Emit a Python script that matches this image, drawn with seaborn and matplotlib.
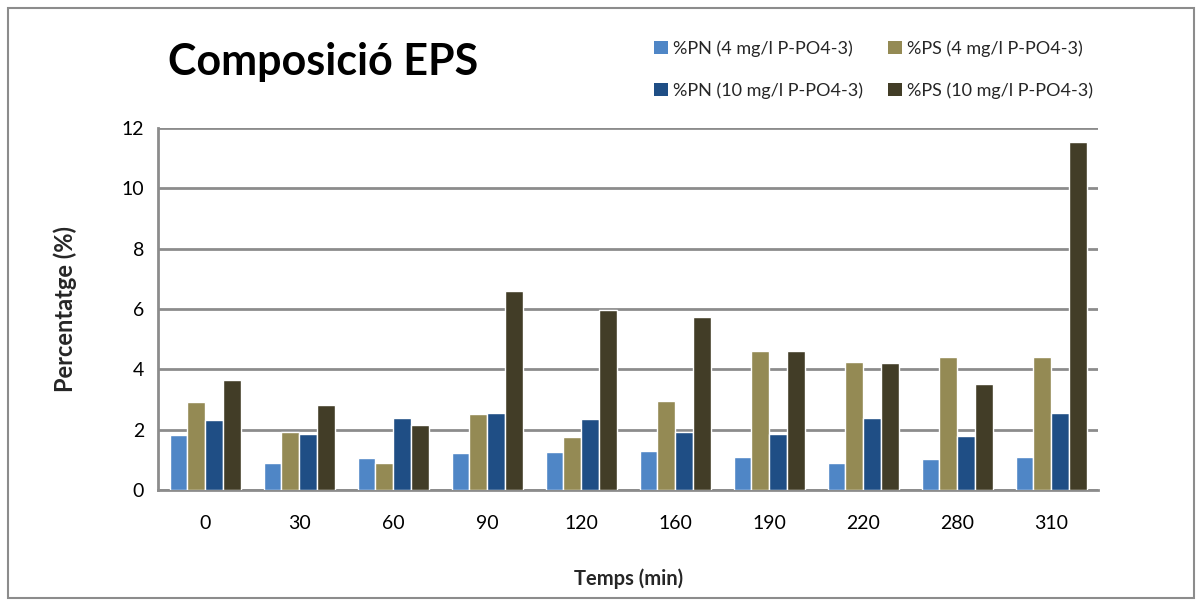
import matplotlib
matplotlib.use("Agg")
import matplotlib.pyplot as plt
import seaborn as sns
import pandas as pd
from matplotlib.patches import Rectangle, Patch

# ---- data ----
temps = ["0", "30", "60", "90", "120", "160", "190", "220", "280", "310"]
pn_4 = [1.84, 0.90, 1.07, 1.24, 1.27, 1.30, 1.10, 0.91, 1.04, 1.10]
ps_4 = [2.93, 1.92, 0.89, 2.53, 1.76, 2.96, 4.62, 4.25, 4.40, 4.40]
pn_10 = [2.32, 1.86, 2.40, 2.54, 2.36, 1.91, 1.86, 2.40, 1.79, 2.55]
ps_10 = [3.64, 2.82, 2.16, 6.60, 5.98, 5.75, 4.62, 4.22, 3.53, 11.55]
series_names = ["%PN (4 mg/l P-PO4-3)", "%PS (4 mg/l P-PO4-3)",
                "%PN (10 mg/l P-PO4-3)", "%PS (10 mg/l P-PO4-3)"]
series_vals = [pn_4, ps_4, pn_10, ps_10]
colors = ["#4F86C6", "#948A54", "#1F4E85", "#423D27"]

rows = []
for name, vals in zip(series_names, series_vals):
    for t, v in zip(temps, vals):
        rows.append({"Temps": t, "Serie": name, "Valor": v})
df = pd.DataFrame(rows)

sns.set_theme(style="white")
plt.rcParams["font.family"] = ["Lato", "DejaVu Sans"]

fig = plt.figure(figsize=(12.01, 6.04), dpi=100)
ax = fig.add_axes([0.1316, 0.1887, 0.7827, 0.5993])

sns.barplot(data=df, x="Temps", y="Valor", hue="Serie", order=temps,
            hue_order=series_names, palette=colors, width=0.76, gap=0.03,
            saturation=1, ax=ax, legend=False, zorder=3)

ax.set_ylim(0, 12)
ax.set_yticks(range(0, 13, 2))
ax.yaxis.grid(True, color="#8C8C8C", linewidth=2, zorder=0)
ax.set_axisbelow(True)
for s in ["top", "right"]:
    ax.spines[s].set_visible(False)
ax.spines["left"].set_color("#8C8C8C")
ax.spines["left"].set_linewidth(2)
ax.spines["bottom"].set_color("#8C8C8C")
ax.spines["bottom"].set_linewidth(2)
ax.tick_params(axis="both", labelsize=14, colors="black", length=0, pad=10)
ax.tick_params(axis="x", pad=18)
ax.set_xlabel("Temps (min)", fontsize=14.5, fontweight="bold", labelpad=26)
ax.set_ylabel("Percentatge (%)", fontsize=17, fontweight="bold", labelpad=32)

fig.text(168 / 1201, 1 - 62 / 604, "Composició EPS", fontsize=31,
         fontweight="bold", va="center", ha="left", color="black")

# legend filled column-wise: rows read PN4, PS4 / PN10, PS10
order = [0, 2, 1, 3]
handles = [Patch(facecolor=colors[i], edgecolor="none") for i in order]
labels = [series_names[i] for i in order]
fig.legend(handles, labels, loc="upper left",
           bbox_to_anchor=(638 / 1201, 1 - 24 / 604), ncol=2, frameon=False,
           fontsize=13, handlelength=0.75, handleheight=0.75,
           handletextpad=0.3, columnspacing=1.4, labelspacing=1.4)

fig.patches.append(Rectangle((8 / 1201, 6 / 604), 1186 / 1201, 590 / 604,
                             transform=fig.transFigure, fill=False,
                             edgecolor="#8C8C8C", linewidth=1.5))

fig.savefig("out.png", dpi=100, facecolor="white")
